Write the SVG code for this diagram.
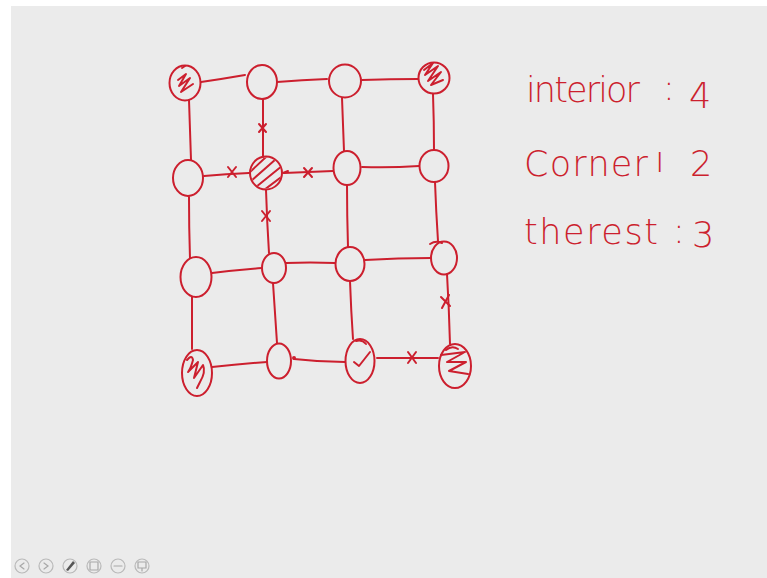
<svg xmlns="http://www.w3.org/2000/svg" width="767" height="578" viewBox="0 0 767 578">
  <defs>
    <style>
      .ink { fill: none; stroke: #cc1f2e; stroke-width: 2; stroke-linecap: round; stroke-linejoin: round; }
      .node { fill: none; stroke: #cc1f2e; stroke-width: 2; }
      .hand { font-family: "DejaVu Sans", "Liberation Sans", sans-serif; font-weight: 200; font-size: 35px; fill: #cc1f2e; }
      .tool { fill: none; stroke: #b9b9b9; stroke-width: 1.2; }
      .toolmark { fill: none; stroke: #a8a8a8; stroke-width: 1.2; stroke-linecap: round; }
    </style>
    <clipPath id="clip-hatch">
      <ellipse cx="266" cy="173" rx="15" ry="15.5"/>
    </clipPath>
  </defs>

  <!-- page -->
  <rect x="0" y="0" width="767" height="578" fill="#ffffff"/>
  <rect x="11" y="6" width="756" height="572" fill="#ebebeb"/>

  <!-- connectors -->
  <g id="connectors" class="ink">
    <!-- row 1 -->
    <path d="M201,82 Q222,79 245,75"/>
    <path d="M277,82 Q302,80 327,79"/>
    <path d="M362,80 Q390,79 418,79"/>
    <!-- row 2 -->
    <path d="M204,176 Q226,174 249,173"/>
    <path d="M284,173 Q308,172 333,171"/>
    <path d="M362,167 Q390,168 419,166"/>
    <!-- row 3 -->
    <path d="M212,273 Q236,270 262,268"/>
    <path d="M286,263 Q310,262 335,263"/>
    <path d="M365,260 Q398,258 431,258"/>
    <!-- row 4 -->
    <path d="M212,367 Q240,364 267,362"/>
    <path d="M294,359 Q320,362 345,362"/>
    <path d="M377,358 Q408,358 438,358"/>
    <!-- column 1 -->
    <path d="M189,100 Q190,130 191,160"/>
    <path d="M189,197 Q189,228 190,258"/>
    <path d="M192,297 Q192,322 192,349"/>
    <!-- column 2 -->
    <path d="M263,99 Q263,128 263,157"/>
    <path d="M266,190 Q267,222 269,253"/>
    <path d="M273,283 Q275,313 277,343"/>
    <!-- column 3 -->
    <path d="M342,98 Q343,124 344,151"/>
    <path d="M347,185 Q347,215 348,247"/>
    <path d="M350,281 Q351,310 353,339"/>
    <!-- column 4 -->
    <path d="M433,94 Q434,122 434,150"/>
    <path d="M435,182 Q436,211 438,241"/>
    <path d="M447,274 Q449,308 450,344"/>

    <!-- crossed-out links -->
    <path d="M259,124 L266,132 M266,124 L259,132"/>
    <path d="M228,167 L236,177 M236,167 L228,177"/>
    <path d="M304,168 L312,177 M312,168 L304,177"/>
    <path d="M262,211 L270,221 M270,211 L262,221"/>
    <path d="M441,297 L450,306 M449,295 L442,308"/>
    <path d="M408,352 L416,363 M416,352 L408,363"/>

    <!-- small pen marks -->
    <path d="M283,173 L288,171"/>
    <circle cx="294" cy="358" r="1" fill="#cc1f2e"/>
    <path d="M430,244 Q436,240 442,243"/>
  </g>

  <!-- row 1 -->
  <g id="n11">
    <ellipse class="node" cx="185" cy="83" rx="15.5" ry="17.5"/>
    <path class="ink" d="M178,80 L186,74 L179,86 L190,78 L181,92 L193,84 M182,68 L185,66"/>
  </g>
  <g id="n12">
    <ellipse class="node" cx="262" cy="82" rx="15" ry="17"/>
  </g>
  <g id="n13">
    <ellipse class="node" cx="345" cy="81" rx="16" ry="16.5"/>
  </g>
  <g id="n14">
    <ellipse class="node" cx="434" cy="78" rx="15.5" ry="15.5"/>
    <path class="ink" d="M424,70 L433,63 L425,75 L438,66 L428,81 L441,72 L431,85 L443,80"/>
  </g>

  <!-- row 2 -->
  <g id="n21">
    <ellipse class="node" cx="188" cy="178" rx="15" ry="18"/>
  </g>
  <g id="n22">
    <ellipse class="node" cx="266" cy="173" rx="16" ry="16.5"/>
    <g clip-path="url(#clip-hatch)" class="ink">
      <path d="M250,172 L266,157"/>
      <path d="M251,181 L276,159"/>
      <path d="M256,187 L282,166"/>
      <path d="M264,190 L284,175"/>
    </g>
  </g>
  <g id="n23">
    <ellipse class="node" cx="347" cy="168" rx="13.5" ry="17"/>
  </g>
  <g id="n24">
    <ellipse class="node" cx="434" cy="166" rx="14.5" ry="16"/>
  </g>

  <!-- row 3 -->
  <g id="n31">
    <ellipse class="node" cx="196" cy="277" rx="15.5" ry="20"/>
  </g>
  <g id="n32">
    <ellipse class="node" cx="274" cy="268" rx="12" ry="15"/>
  </g>
  <g id="n33">
    <ellipse class="node" cx="350" cy="264" rx="14.5" ry="17"/>
  </g>
  <g id="n34">
    <ellipse class="node" cx="444" cy="258" rx="13" ry="16.5"/>
  </g>

  <!-- row 4 -->
  <g id="n41">
    <ellipse class="node" cx="197" cy="373" rx="15" ry="23"/>
    <path class="ink" d="M187,360 Q192,354 193,360 Q191,368 188,372 L198,362 L194,378 L203,365 Q206,372 200,382 L197,388"/>
  </g>
  <g id="n42">
    <ellipse class="node" cx="279" cy="361" rx="12" ry="17.5"/>
  </g>
  <g id="n43">
    <ellipse class="node" cx="360" cy="361" rx="14.5" ry="22"/>
    <path class="ink" d="M354,362 L359,366 L370,352 M356,341 Q362,339 366,344"/>
  </g>
  <g id="n44">
    <ellipse class="node" cx="455" cy="366" rx="16" ry="22"/>
    <path class="ink" d="M441,355 L465,352 L447,362 L466,362 L449,371 L468,374 M446,350 Q452,345 458,349"/>
  </g>

  <!-- counts -->
  <g id="legend">
    <text class="hand" x="526" y="102" textLength="114" lengthAdjust="spacing">interior</text>
    <text class="hand" x="663" y="100">:</text>
    <text class="hand" x="689" y="108" font-size="42">4</text>
    <text class="hand" x="524" y="176" textLength="124" lengthAdjust="spacing">Corner</text>
    <text class="hand" x="655" y="172" font-size="30">ı</text>
    <text class="hand" x="690" y="176" font-size="30">2</text>
    <text class="hand" x="524" y="244" textLength="134" lengthAdjust="spacing">therest</text>
    <text class="hand" x="673" y="243">:</text>
    <text class="hand" x="692" y="247" font-size="40">3</text>
  </g>

  <!-- player toolbar -->
  <g id="toolbar">
    <circle class="tool" cx="22" cy="566" r="7"/>
    <path class="toolmark" d="M24,563 L20,566 L24,569"/>
    <circle class="tool" cx="46" cy="566" r="7"/>
    <path class="toolmark" d="M44,563 L48,566 L44,569"/>
    <circle class="tool" cx="70" cy="566" r="7"/>
    <path d="M66,570 L73,561 L75,563 L68,571 Z" fill="#555"/>
    <circle class="tool" cx="94" cy="566" r="7"/>
    <path class="toolmark" d="M90,562 L98,562 L98,570 L90,570 Z"/>
    <circle class="tool" cx="118" cy="566" r="7"/>
    <path class="toolmark" d="M114,566 L122,566"/>
    <circle class="tool" cx="142" cy="566" r="7"/>
    <path class="toolmark" d="M138,562 L146,562 L146,568 L138,568 Z M142,568 L142,571"/>
  </g>
</svg>
